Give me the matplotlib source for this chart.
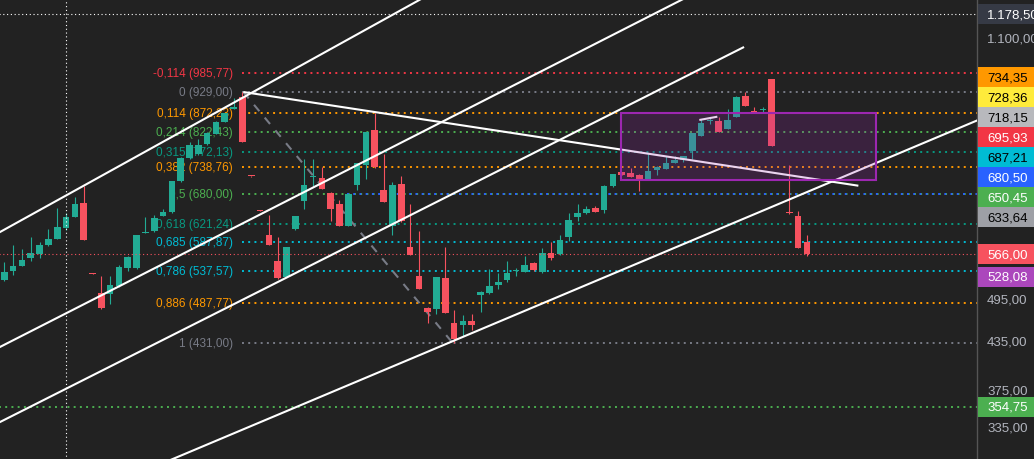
import matplotlib
matplotlib.use("Agg")
import matplotlib.pyplot as plt
import numpy as np
from matplotlib.patches import Rectangle
from matplotlib.ticker import NullLocator

nan = np.nan

# daily candles, one per bar slot (nan = empty slot)
opens = [523, 537, 546, 559, 566, 581, 593, 613, 634, 662,
         534, 502, 501, 514, 543, 542, 604, 607, 636, 643,
         707, 759, 768, 792, 818, 848, 883, 916, 718.5, 646.5,
         599, 554, 528, 611, 666, 716.5, 714, 682, 660, 617,
         698, 743, 827, 688, 617, 701, 579, 529, 480, 478,
         526, 459, 455.6, 461, 499, 502, 515, 523, 537.5, 536,
         551, 536, 568, 566, 597, 634, 642, 652, 648, 696,
         727, 725, 721, 712, 732.6, 734, 748, 755, 776, 812,
         849, 850, 830, 861, 917, 876, 879.5, 967, nan, 641.5,
         636, 588]
highs = [552, 582, 575, 596, 587, 611, 652, 642, 674, 697,
         534.5, 529, 529, 547, 562, 600, 634, 638, 650, 708,
         761, 797, 805, 823, 850, 872, 912, 929, 719, 647,
         638, 596, 579, 636, 757, 757, 738, 684, 668, 681,
         748, 823, 872, 768, 705, 719, 660, 607, 481, 528,
         578, 477, 469, 471, 505, 541, 534, 554, 542, 563,
         552, 577, 588, 599, 642, 660, 655, 656, 698, 724,
         728, 736, 722, 772, 740, 763, 764, 764, 820, 855,
         857, 861, 882, 918, 928, 888, 886, 968, nan, 743,
         646, 599]
lows = [521, 531, 545, 554, 559, 580, 592, 609, 633, 590,
        533, 479, 486, 512, 537, 541, 604, 606, 636, 642,
        705, 758, 766, 790, 816, 847, 881, 797, 717, 646,
        582, 525, 527, 609, 650, 697, 690, 627, 616, 616,
        688, 713, 737, 663, 600, 625, 564, 508, 458, 471,
        472, 431, 441, 449, 474, 501, 509, 520, 530, 535,
        538, 534, 556, 565, 589, 627, 640, 644, 642, 695,
        720, 716, 687, 711, 721, 733, 747, 749, 757, 811,
        842, 822, 829, 860, 890, 870.5, 873, 788, nan, 640.5,
        576, 562.6]
closes = [535, 545, 556, 568, 582, 593, 615, 634, 660, 591,
          533, 480, 515, 544, 561, 599, 606, 632, 644, 707,
          759, 789, 790, 820, 848, 870, 885, 798, 717.5, 646,
          582.5, 525.5, 578, 635, 699, 717.5, 690.6, 650, 617, 680,
          747, 821, 738, 664, 699, 627, 564.5, 508.6, 474.5, 527,
          472.6, 437, 461, 455.6, 504.5, 513, 520, 534, 538.3, 547,
          539, 568, 559, 591, 628, 642, 650, 644.5, 697.6, 723,
          721, 717, 712, 729, 739.4, 748, 754.6, 763, 819.5, 845,
          850, 823, 853, 915, 891, 871, 880, 788.5, nan, 641,
          576.6, 566]

# fibonacci retracement from the 929 high to the 431 low
fib_labels = ["-0,114 (985,77)", "0 (929,00)", "0,114 (872,23)", "0,214 (822,43)",
              "0,315 (772,13)", "0,382 (738,76)", "0,5 (680,00)", "0,618 (621,24)",
              "0,685 (587,87)", "0,786 (537,57)", "0,886 (487,77)", "1 (431,00)"]
fib_prices = [985.77, 929.00, 872.23, 822.43, 772.13, 738.76,
              680.00, 621.24, 587.87, 537.57, 487.77, 431.00]
fib_colors = ["#f23645", "#787b86", "#ff9800", "#4caf50", "#089981", "#ff9800",
              "#4caf50", "#089981", "#00bcd4", "#00bcd4", "#ff9800", "#787b86"]
fib_from = (27.1, 929.0)
fib_to = (50.85, 431.0)

# white trend / channel lines as (bar, price) pairs
white_lines = [
    ((-2.76, 585.2), (49.3, 1272.9)),
    ((-2.76, 412.9), (79.2, 1272.9)),
    ((-2.76, 328.3), (83.87, 1066.1)),
    ((16.41, 293.3), (111.76, 865.9)),
    ((27.1, 929.0), (96.83, 697.5)),
    ((78.8, 852.8), (80.84, 861.4)),
]

# zone box: bars and prices
box_bars = (69.9, 98.8)
box_prices = (709.8, 870.3)

# horizontal rays
blue_ray = (38.9, 680.50)
green_level = 354.75
last_price = 566.00
cross_bar = 7
cross_price = 1178.50

# right scale
tick_values = [335, 375, 435, 495, 1100]
tick_labels = ["335,00", "375,00", "435,00", "495,00", "1.100,00"]
tag_values = [1178.50, 734.35, 728.36, 718.15, 695.93, 687.21, 680.50, 650.45,
              633.64, 566.00, 528.08, 354.75]
tag_texts = ["1.178,50", "734,35", "728,36", "718,15", "695,93", "687,21", "680,50",
             "650,45", "633,64", "566,00", "528,08", "354,75"]
tag_bg = ["#363a45", "#ff9800", "#ffeb3b", "#b8b9bd", "#f23645", "#00bcd4", "#2962ff",
          "#4caf50", "#9ea0a6", "#f7525f", "#ab47bc", "#4caf50"]
tag_fg = ["white", "black", "black", "black", "white", "black", "white",
          "white", "black", "white", "white", "white"]

bg = "#222222"
up_col = "#22ab94"
dn_col = "#f7525f"
font = "Liberation Sans"

W, H = 1034, 460
fig = plt.figure(figsize=(W / 100, H / 100), dpi=100, facecolor=bg)
ax = fig.add_axes([0, 0, 977 / W, 1])
ax.set_facecolor(bg)
ax.set_yscale("log")
ax.set_xlim(-0.4875, 110.28)
ax.set_ylim(302.4, 1234.6)

# candles
for i in range(len(opens)):
    o, h, l, c = opens[i], highs[i], lows[i], closes[i]
    if np.isnan(o):
        continue
    col = up_col if c >= o else dn_col
    ax.vlines(i, l, h, color=col, lw=0.8, zorder=2)
    lo, hi = min(o, c), max(o, c)
    hi = max(hi, lo * 1.0035)
    ax.bar(i, hi - lo, bottom=lo, width=0.75, color=col, lw=0, zorder=2)

# fib levels
dots = (0, (1, 2.2))
for lab, p, col in zip(fib_labels, fib_prices, fib_colors):
    ax.plot([fib_from[0] - 0.2, 112], [p, p], color=col, lw=1.4, ls=dots, zorder=1.8)
    ax.text(fib_from[0] - 1.15, p, lab, ha="right", va="center", color=col,
            fontsize=8.5, family=font, zorder=1.5)
ax.plot([fib_from[0], fib_to[0]], [fib_from[1], fib_to[1]], color="#787b86",
        lw=1.5, ls=(0, (4, 4)), zorder=1.8)

ax.plot([blue_ray[0], 112], [blue_ray[1]] * 2, color="#2962ff", lw=1.4, ls=dots, zorder=1.9)
ax.plot([-1, 112], [green_level] * 2, color="#4caf50", lw=1.4, ls=dots, zorder=1.8)
ax.plot([-1, 112], [last_price] * 2, color=dn_col, lw=0.8, ls=(0, (1, 2.4)), zorder=3)

# crosshair
ax.plot([-1, 112], [cross_price] * 2, color="white", lw=0.8, ls=(0, (1, 2.4)), zorder=5)
ax.plot([cross_bar, cross_bar], [290, 1300], color="white", lw=0.8, ls=(0, (1, 2.4)), zorder=5)

# white lines
for (x0, y0), (x1, y1) in white_lines:
    ax.plot([x0, x1], [y0, y1], color="white", lw=1.5, solid_capstyle="butt", zorder=4)

# zone box
ax.add_patch(Rectangle((box_bars[0], box_prices[0]), box_bars[1] - box_bars[0],
                       box_prices[1] - box_prices[0], facecolor="#9c27b0", alpha=0.2,
                       lw=0, zorder=6))
ax.add_patch(Rectangle((box_bars[0], box_prices[0]), box_bars[1] - box_bars[0],
                       box_prices[1] - box_prices[0], facecolor="none",
                       edgecolor="#9c27b0", lw=1.5, zorder=6))

# axes styling
for s in ["top", "left", "bottom"]:
    ax.spines[s].set_visible(False)
ax.spines["right"].set_color("#555555")
ax.spines["right"].set_linewidth(1)
ax.set_xticks([])
ax.yaxis.tick_right()
ax.set_yticks(tick_values)
ax.set_yticklabels(tick_labels)
ax.yaxis.set_minor_locator(NullLocator())
ax.tick_params(axis="y", length=0, pad=7.2, labelsize=9.5, labelcolor="#b2b5be")
for t in ax.get_yticklabels():
    t.set_family(font)

# price tags on the scale, pushed apart like the platform does
order = np.argsort(tag_values)
ys = {}
prev = -1e9
for k in order:
    y = ax.transData.transform((0, tag_values[k]))[1]
    y = max(y, prev + 20)
    ys[k] = y
    prev = y
for k in range(len(tag_values)):
    y = ys[k]
    fig.add_artist(Rectangle((978 / W, (y - 10) / H), 60 / W, 20 / H,
                             transform=fig.transFigure, facecolor=tag_bg[k], lw=0))
    fig.text(987 / W, y / H, tag_texts[k], color=tag_fg[k], fontsize=9.5,
             family=font, va="center", ha="left")

fig.savefig("out.png", dpi=100, facecolor=bg)
